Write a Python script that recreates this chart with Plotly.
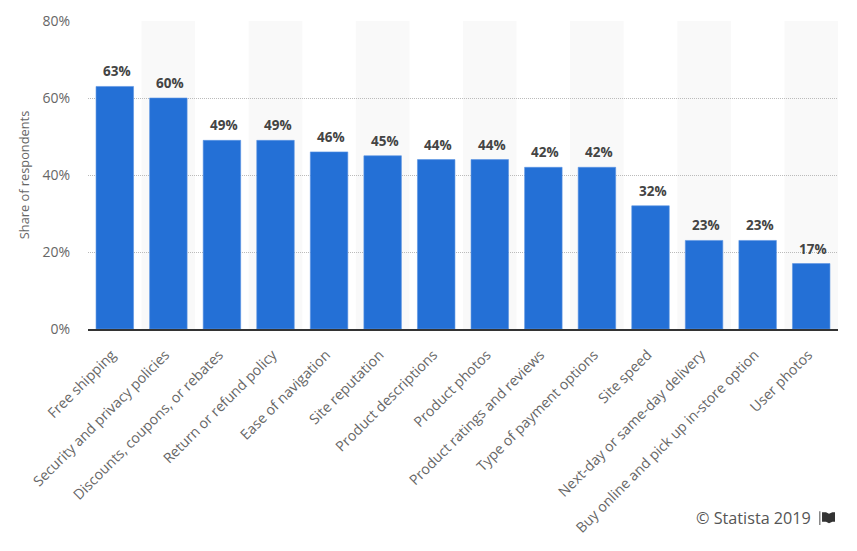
import plotly.graph_objects as go

categories = ["Free shipping", "Security and privacy policies", "Discounts, coupons, or rebates",
              "Return or refund policy", "Ease of navigation", "Site reputation",
              "Product descriptions", "Product photos", "Product ratings and reviews",
              "Type of payment options", "Site speed", "Next-day or same-day delivery",
              "Buy online and pick up in-store option", "User photos"]
values = [63, 60, 49, 49, 46, 45, 44, 44, 42, 42, 32, 23, 23, 17]
y_ticks = [0, 20, 40, 60, 80]
y_tick_labels = ["0%", "20%", "40%", "60%", "80%"]
FONT = "Open Sans"

fig = go.Figure(go.Bar(
    x=categories, y=values, width=0.7,
    marker=dict(color="#2470d6", line=dict(color="#5a93e2", width=0.6)),
))

annotations = [dict(x=c, y=v, text=f"{v}%", xref="x", yref="y", showarrow=False,
                    xanchor="center", yanchor="bottom", xshift=2, yshift=4,
                    font=dict(family=FONT, size=13.5, color="#444444", weight="bold"))
               for c, v in zip(categories, values)]
annotations.append(dict(text="© Statista 2019", xref="paper", yref="paper", x=0.9667, y=-0.6143,
                        xanchor="right", yanchor="middle", showarrow=False,
                        font=dict(family=FONT, size=16.2, color="#555555")))

shapes = []
for i in range(1, len(categories), 2):
    shapes.append(dict(type="rect", xref="x", yref="y", x0=i - 0.5, x1=i + 0.5, y0=0, y1=80,
                       fillcolor="#f9f9f9", line_width=0, layer="below"))
# flag icon beside the copyright
shapes.append(dict(type="path", xref="paper", yref="paper",
                   path="M 0.9747 -0.5916 L 0.9767 -0.5916 L 0.9767 -0.6360 L 0.9747 -0.6360 Z",
                   fillcolor="#888888", line_width=0))
shapes.append(dict(type="path", xref="paper", yref="paper",
                   path="M 0.9787 -0.5949 L 0.9840 -0.5949 L 0.9880 -0.5995 L 0.9925 -0.5949 L 0.9960 -0.5949 "
                        "L 0.9960 -0.6262 L 0.9925 -0.6262 L 0.9880 -0.6308 L 0.9840 -0.6262 L 0.9787 -0.6262 Z",
                   fillcolor="#333333", line_width=0))

fig.update_layout(
    width=841, height=535, margin=dict(l=79.5, r=11, t=13, b=213.5, autoexpand=False),
    paper_bgcolor="white", plot_bgcolor="white", showlegend=False, shapes=shapes, bargap=0.3,
    font=dict(family=FONT, color="#666666"), annotations=annotations,
)
fig.update_xaxes(type="category", range=[-0.5, 13.5], tickangle=-45, ticks="outside", ticklen=10,
                 tickcolor="rgba(0,0,0,0)", ticklabelshift=-3,
                 tickfont=dict(family=FONT, size=14.2, color="#666666"),
                 showline=True, linecolor="#333333", linewidth=2, showgrid=False)
fig.update_yaxes(range=[0, 80], tickvals=y_ticks, ticktext=y_tick_labels, zeroline=False,
                 showgrid=True, gridcolor="#bbbbbb", griddash="1px,1px", gridwidth=1,
                 tickfont=dict(family=FONT, size=14, color="#666666"), ticks="", ticklabelstandoff=17,
                 title=dict(text="Share of respondents", font=dict(family=FONT, size=12.8, color="#666666"), standoff=9))
fig.write_html("out.html")
